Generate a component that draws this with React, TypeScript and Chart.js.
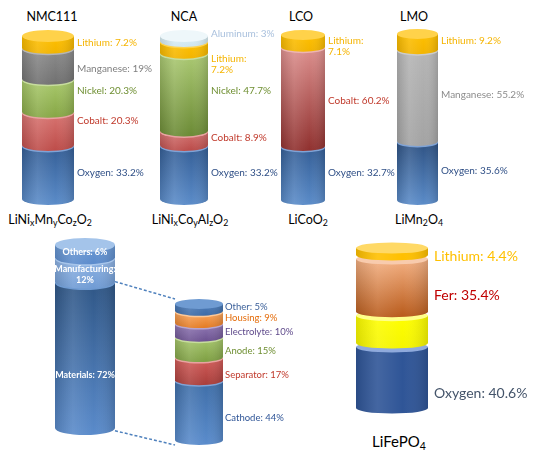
import React, { useEffect, useRef } from "react";
import { Chart, registerables } from "chart.js";
Chart.register(...registerables);

// ---------- data ----------
const nmcLabels = ["Oxygen", "Cobalt", "Nickel", "Manganese", "Lithium"];
const nmcValues = [33.2, 20.3, 20.3, 19, 7.2];

const ncaLabels = ["Oxygen", "Cobalt", "Nickel", "Lithium", "Aluminum"];
const ncaValues = [33.2, 8.9, 47.7, 7.2, 3];

const lcoLabels = ["Oxygen", "Cobalt", "Lithium"];
const lcoValues = [32.7, 60.2, 7.1];

const lmoLabels = ["Oxygen", "Manganese", "Lithium"];
const lmoValues = [35.6, 55.2, 9.2];

const costLabels = ["Materials", "Manufacturing", "Others"];
const costValues = [72, 12, 6];

const matLabels = ["Cathode", "Separator", "Anode", "Electrolyte", "Housing", "Other"];
const matValues = [44, 17, 15, 10, 9, 5];

const lfpLabels = ["Oxygen", "", "Fer", "Lithium"];
const lfpValues = [40.6, 19.6, 35.4, 4.4];

// ---------- helpers ----------
function lighten(hex: string, t: number): string {
  const h = hex.replace("#", "");
  const r = parseInt(h.slice(0, 2), 16), g = parseInt(h.slice(2, 4), 16), b = parseInt(h.slice(4, 6), 16);
  const m = (c: number) => Math.round(c + (255 - c) * t);
  return `rgb(${m(r)},${m(g)},${m(b)})`;
}

interface Spec {
  id: string;
  labels: string[];
  values: number[];
  max: number;
  left: number;
  width: number;
  y0: number;
  y1: number;
  ry: number;
  gap: number;
  labelSpace: number;
  labelGap: number;
  padTop: number;
  padBottom: number;
  fills: [string, string][];
  caps?: string[];
  textColors: string[];
  wrap: boolean[];
  font: string;
  lineH: number;
  inside?: boolean;
  dy?: number[];
  connector?: { x: number; yTop: number; yBottom: number };
}

function makePlugin(spec: Spec) {
  return {
    id: "cyl_" + spec.id,
    afterDatasetsDraw(chart: any) {
      const ctx = chart.ctx as CanvasRenderingContext2D;
      const n = chart.data.datasets.length;
      const ry = spec.ry;
      const canvasTop = spec.y0 - spec.padTop;
      ctx.save();
      const els: any[] = [];
      for (let i = 0; i < n; i++) els.push(chart.getDatasetMeta(i).data[0]);
      if (spec.connector) {
        const el = els[0];
        const r = el.x + el.width / 2;
        const tx = spec.connector.x - spec.left;
        ctx.setLineDash([3, 2]);
        ctx.strokeStyle = "#4f81bd";
        ctx.lineWidth = 1.5;
        ctx.beginPath();
        ctx.moveTo(r, el.y);
        ctx.lineTo(tx, spec.connector.yTop - canvasTop);
        ctx.moveTo(r, el.base + ry * 0.4);
        ctx.lineTo(tx, spec.connector.yBottom - canvasTop);
        ctx.stroke();
        ctx.setLineDash([]);
      }
      for (let i = 0; i < n; i++) {
        const el = els[i];
        const cx = el.x, w = el.width, rx = w / 2;
        const l = cx - rx, r = cx + rx;
        const top = el.y + (i === n - 1 ? 0 : spec.gap);
        const base = el.base;
        const [c0, c1] = spec.fills[i];
        ctx.beginPath();
        ctx.moveTo(l, top);
        ctx.lineTo(l, base);
        ctx.ellipse(cx, base, rx, ry, 0, Math.PI, 0, true);
        ctx.lineTo(r, top);
        ctx.closePath();
        const vg = ctx.createLinearGradient(0, top, 0, base + ry);
        vg.addColorStop(0, c0);
        vg.addColorStop(1, c1);
        ctx.fillStyle = vg;
        ctx.fill();
        const hg = ctx.createLinearGradient(l, 0, r, 0);
        hg.addColorStop(0, "rgba(0,0,0,0.12)");
        hg.addColorStop(0.3, "rgba(255,255,255,0.10)");
        hg.addColorStop(0.65, "rgba(255,255,255,0)");
        hg.addColorStop(1, "rgba(0,0,0,0.14)");
        ctx.fillStyle = hg;
        ctx.fill();
        ctx.beginPath();
        ctx.ellipse(cx, top, rx, ry, 0, 0, Math.PI * 2);
        ctx.fillStyle = spec.caps ? spec.caps[i] : lighten(c0, 0.3);
        ctx.fill();
      }
      ctx.font = spec.font;
      ctx.textBaseline = "middle";
      for (let i = 0; i < n; i++) {
        const lab = spec.labels[i];
        if (!lab) continue;
        const el = els[i];
        const v = spec.values[i];
        const txt = spec.wrap[i] ? `${lab}:\n${v}%` : `${lab}: ${v}%`;
        const lines = txt.split("\n");
        const cy = (el.y + el.base) / 2 + (spec.dy ? spec.dy[i] : 0);
        const x = spec.inside ? el.x : el.x + el.width / 2 + spec.labelGap;
        ctx.textAlign = spec.inside ? "center" : "left";
        ctx.fillStyle = spec.textColors[i];
        lines.forEach((ln, k) => {
          ctx.fillText(ln, x, cy + (k - (lines.length - 1) / 2) * spec.lineH);
        });
      }
      ctx.restore();
    },
  };
}

function Cylinder({ spec }: { spec: Spec }) {
  const ref = useRef<HTMLCanvasElement | null>(null);
  const W = spec.width + spec.labelSpace;
  const H = spec.y1 - spec.y0 + spec.padTop + spec.padBottom;
  useEffect(() => {
    if (!ref.current) return;
    const chart = new Chart(ref.current, {
      type: "bar",
      data: {
        labels: [spec.id],
        datasets: spec.labels.map((l, i) => ({
          label: l || "Phosphorus",
          data: [spec.values[i]],
          backgroundColor: "rgba(0,0,0,0)",
          borderWidth: 0,
          barPercentage: 1,
          categoryPercentage: 1,
        })),
      },
      options: {
        animation: false,
        responsive: false,
        maintainAspectRatio: false,
        layout: { padding: { left: 0, right: spec.labelSpace, top: spec.padTop, bottom: spec.padBottom } },
        scales: {
          x: { display: false, stacked: true },
          y: { display: false, stacked: true, min: 0, max: spec.max },
        },
        plugins: { legend: { display: false }, tooltip: { enabled: false } },
      },
      plugins: [makePlugin(spec)],
    } as any);
    return () => chart.destroy();
  }, []);
  return (
    <canvas
      ref={ref}
      width={W}
      height={H}
      style={{ position: "absolute", left: spec.left, top: spec.y0 - spec.padTop, width: W, height: H }}
    />
  );
}

const OXY: [string, string] = ["#345e96", "#5b8cc9"];
const OXY_T = "#2f4f86";
const LI: [string, string] = ["#ffc000", "#f2b400"];
const LI_CAP = "#ffd24a";
const LI_T = "#f5b400";
const FONT = "10px Lato";

const nmc: Spec = {
  id: "NMC111", labels: nmcLabels, values: nmcValues, max: 100,
  left: 22, width: 52, y0: 36, y1: 199, ry: 6, gap: 1.5, labelSpace: 88, labelGap: 3, padTop: 8, padBottom: 8,
  fills: [OXY, ["#d87471", "#bd4c49"], ["#a9c96c", "#86a645"], ["#8c8c8c", "#707070"], LI],
  caps: ["#7fa3d6", "#e8a3a1", "#c7dd9e", "#b5b5b5", LI_CAP],
  textColors: [OXY_T, "#c0392b", "#6f8f32", "#7f7f7f", LI_T],
  wrap: [false, false, false, false, false], font: FONT, lineH: 11,
  dy: [1, -8, -4, 6, 1],
};
const nca: Spec = {
  id: "NCA", labels: ncaLabels, values: ncaValues, max: 100,
  left: 160, width: 48, y0: 36, y1: 199, ry: 6, gap: 1.5, labelSpace: 72, labelGap: 3, padTop: 8, padBottom: 8,
  fills: [OXY, ["#d47371", "#b94a48"], ["#abc973", "#6b8a35"], LI, ["#dbeef4", "#cfe6ef"]],
  caps: ["#7fa3d6", "#e8a3a1", "#c7dd9e", LI_CAP, "#eef7fa"],
  textColors: [OXY_T, "#c0392b", "#6f8f32", LI_T, "#a9c0dd"],
  wrap: [false, false, false, true, false], font: FONT, lineH: 11,
  dy: [1, 0, -1, 18, -5],
};
const lco: Spec = {
  id: "LCO", labels: lcoLabels, values: lcoValues, max: 100,
  left: 281, width: 44, y0: 35, y1: 200, ry: 5, gap: 1.5, labelSpace: 74, labelGap: 3, padTop: 8, padBottom: 8,
  fills: [OXY, ["#dc8f8d", "#8f302e"], LI],
  caps: ["#7fa3d6", "#edb5b3", LI_CAP],
  textColors: [OXY_T, "#c0392b", LI_T],
  wrap: [false, false, true], font: FONT, lineH: 11,
  dy: [0, 4, 5],
};
const lmo: Spec = {
  id: "LMO", labels: lmoLabels, values: lmoValues, max: 100,
  left: 397, width: 41, y0: 34, y1: 200, ry: 5, gap: 1.5, labelSpace: 104, labelGap: 3, padTop: 8, padBottom: 8,
  fills: [["#2e5283", "#5b8cc9"], ["#b5b5b5", "#a3a3a3"], LI],
  caps: ["#7fa3d6", "#cccccc", LI_CAP],
  textColors: [OXY_T, "#8c8c8c", LI_T],
  wrap: [false, false, false], font: FONT, lineH: 11,
  dy: [0, 0, -1],
};
const mat: Spec = {
  id: "MAT", labels: matLabels, values: matValues, max: 100,
  left: 175, width: 48, y0: 304, y1: 440, ry: 5, gap: 1.5, labelSpace: 72, labelGap: 2, padTop: 8, padBottom: 8,
  fills: [["#3f6ea8", "#5a8ccc"], ["#d35d5a", "#a83d3a"], ["#a6c66c", "#7d9e42"], ["#9079b4", "#6b5090"], ["#fba75f", "#e37a22"], ["#4d7db9", "#3d6aa5"]],
  caps: ["#7fa3d6", "#e8a3a1", "#c7dd9e", "#b7a6cf", "#fcc999", "#6f9bd2"],
  textColors: ["#2f5597", "#c0392b", "#6f8f32", "#5f4a8b", "#e46c0a", "#3a5f99"],
  wrap: [false, false, false, false, false, false], font: "9.5px Lato", lineH: 11,
  dy: [8, 6, 4, 2, 1, 0],
};
const cost: Spec = {
  id: "COST", labels: costLabels, values: costValues, max: 90,
  left: 55, width: 60, y0: 245, y1: 428, ry: 7, gap: 1.5, labelSpace: 62, labelGap: 3, padTop: 8, padBottom: 20,
  fills: [["#2f5686", "#5a8bcb"], ["#8fb3e3", "#6f9bd4"], ["#6a98d2", "#5b8bcc"]],
  caps: ["#6f9bd2", "#a7c5ea", "#a4c4ea"],
  textColors: ["#ffffff", "#ffffff", "#ffffff"],
  wrap: [false, true, false], font: "bold 9px Lato", lineH: 11, inside: true,
  dy: [20, 5, 1],
  connector: { x: 175, yTop: 299, yBottom: 445 },
};
const lfp: Spec = {
  id: "LFP", labels: lfpLabels, values: lfpValues, max: 100,
  left: 356, width: 72, y0: 248, y1: 408, ry: 5.5, gap: 4, labelSpace: 112, labelGap: 6, padTop: 8, padBottom: 8,
  fills: [["#2f5597", "#2f5597"], ["#ffff00", "#f5f500"], ["#f4b183", "#b85a1a"], ["#ffc000", "#ffc000"]],
  caps: ["#8faadc", "#ffff8a", "#f8cbad", "#ffd966"],
  textColors: ["#44546a", "#000000", "#c00000", "#ffc000"],
  wrap: [false, false, false, false], font: "14px Lato", lineH: 16,
  dy: [18, 0, 12, 5],
};

const allSpecs = [nmc, nca, lco, lmo, cost, mat, lfp];

const titles = [
  { text: "NMC111", x: 52 },
  { text: "NCA", x: 184 },
  { text: "LCO", x: 301 },
  { text: "LMO", x: 414 },
];

const subStyle: React.CSSProperties = { fontSize: "0.7em", verticalAlign: "-0.25em", lineHeight: 0 };

export default function App() {
  return (
    <div style={{ position: "absolute", left: 0, top: 0, width: 542, height: 452, background: "#fff", fontFamily: "Lato, sans-serif", overflow: "hidden" }}>
      {allSpecs.map((s) => (
        <Cylinder key={s.id} spec={s} />
      ))}
      {titles.map((t) => (
        <div key={t.text} style={{ position: "absolute", left: t.x - 40, width: 80, top: 9, textAlign: "center", fontSize: 12.5, color: "#000" }}>
          {t.text}
        </div>
      ))}
      <div style={{ position: "absolute", left: 0, width: 100, top: 212, textAlign: "center", fontSize: 12.5 }}>
        LiNi<sub style={subStyle}>x</sub>Mn<sub style={subStyle}>y</sub>Co<sub style={subStyle}>z</sub>O<sub style={subStyle}>2</sub>
      </div>
      <div style={{ position: "absolute", left: 140, width: 100, top: 212, textAlign: "center", fontSize: 12.5 }}>
        LiNi<sub style={subStyle}>x</sub>Co<sub style={subStyle}>y</sub>Al<sub style={subStyle}>z</sub>O<sub style={subStyle}>2</sub>
      </div>
      <div style={{ position: "absolute", left: 268, width: 80, top: 212, textAlign: "center", fontSize: 12.5 }}>
        LiCoO<sub style={subStyle}>2</sub>
      </div>
      <div style={{ position: "absolute", left: 379, width: 80, top: 212, textAlign: "center", fontSize: 12.5 }}>
        LiMn<sub style={subStyle}>2</sub>O<sub style={subStyle}>4</sub>
      </div>
      <div style={{ position: "absolute", left: 349, width: 100, top: 432, textAlign: "center", fontSize: 15 }}>
        LiFePO<sub style={subStyle}>4</sub>
      </div>
    </div>
  );
}
